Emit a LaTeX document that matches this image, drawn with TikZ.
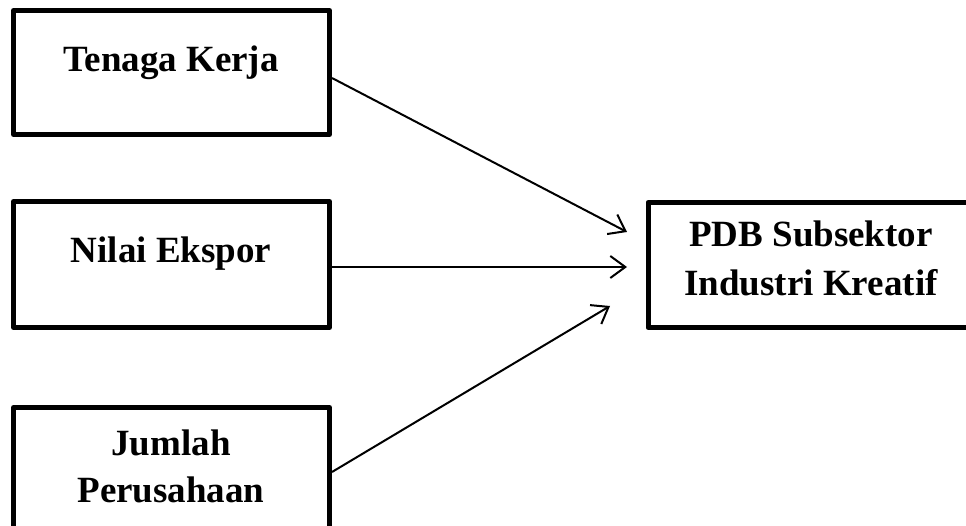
\documentclass[tikz,border=0pt]{standalone}
\usepackage{fontspec}
\setmainfont{Liberation Serif}
\usetikzlibrary{arrows.meta}
\begin{document}
\begin{tikzpicture}[x=1pt,y=-1pt,
  box/.style={draw=black,line width=5pt,line join=round,rectangle,inner sep=0pt,outer sep=0pt},
  lbl/.style={font=\bfseries\fontsize{37}{47}\selectfont,align=center,inner sep=0pt,anchor=base},
  arr/.style={line width=2pt,-{Straight Barb[length=15pt,width=22pt,line width=2pt]}}]
\useasboundingbox (0,0) rectangle (966,526);
\clip (0,0) rectangle (966,526);
% boxes
\node[box,minimum width=316pt,minimum height=124pt] (tk) at (171.5,72.5) {};
\node[box,minimum width=316pt,minimum height=126pt] (ne) at (171.5,264.5) {};
\node[box,minimum width=316pt,minimum height=180pt] (jp) at (171.5,497.5) {};
\node[box,minimum width=360pt,minimum height=125pt] (pdb) at (828,265) {};
% labels
\node[lbl] (tkt) at (171,72) {Tenaga Kerja};
\node[lbl] (net) at (171,263) {Nilai Ekspor};
\node[lbl] (jpt1) at (171,455) {Jumlah};
\node[lbl] (jpt2) at (171,502) {Perusahaan};
\node[lbl] (pdbt1) at (811,247) {PDB Subsektor};
\node[lbl] (pdbt2) at (811,296) {Industri Kreatif};
% arrow ends
\coordinate (s1) at (332,78);
\coordinate (e1) at (627,232);
\coordinate (s2) at (332,267);
\coordinate (e2) at (627,267);
\coordinate (s3) at (332,472);
\coordinate (e3) at (610,306);
\draw[arr] (s1) -- (e1);
\draw[arr] (s2) -- (e2);
\draw[arr] (s3) -- (e3);
\end{tikzpicture}
\end{document}
